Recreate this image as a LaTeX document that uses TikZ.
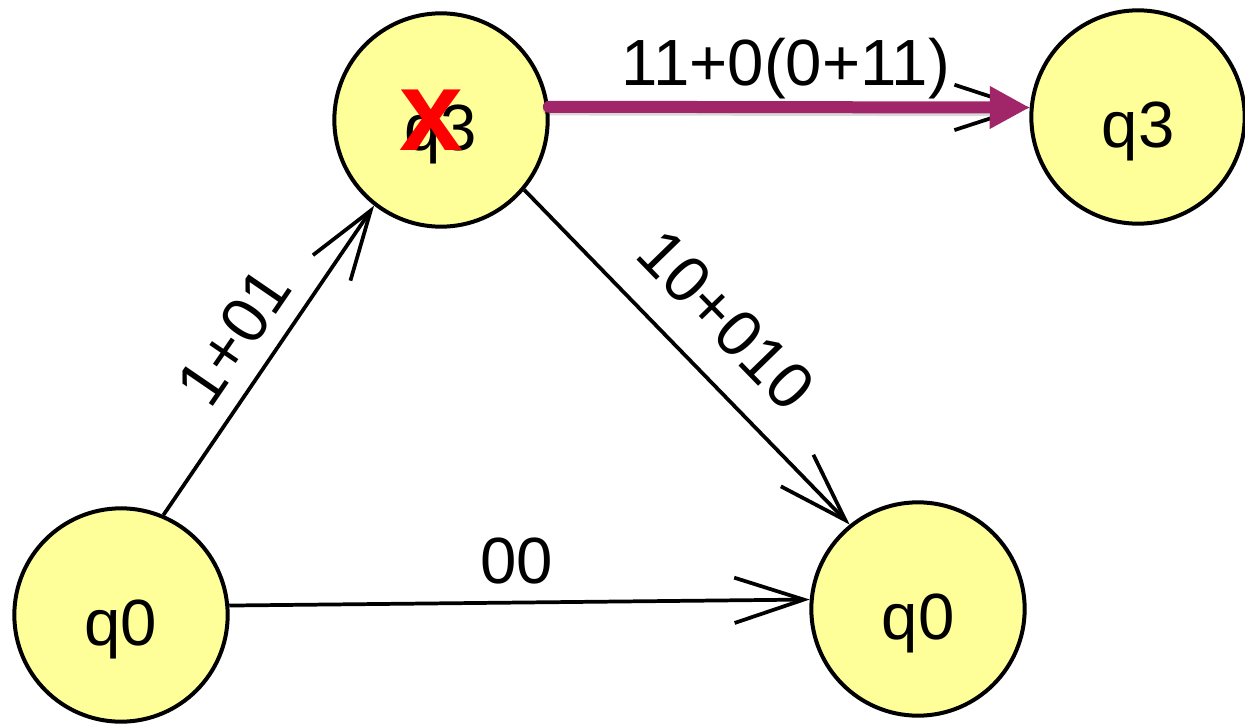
\documentclass[tikz,border=0pt]{standalone}
\usepackage{fontspec}
\setmainfont{Liberation Sans}
\usetikzlibrary{arrows.meta}
\definecolor{stateyellow}{RGB}{255,255,153}
\definecolor{hlpurple}{RGB}{160,38,105}
\begin{document}
\begin{tikzpicture}[x=0.75pt,y=-0.75pt,
  state/.style={circle,draw=black,line width=3pt,fill=stateyellow,minimum size=160pt,inner sep=0pt,
    font=\fontsize{49}{58}\selectfont},
  trans/.style={line width=2.8pt,-{Straight Barb[length=52pt,width=34pt,line width=2.8pt]}},
  elabel/.style={font=\fontsize{49}{58}\selectfont,inner sep=0pt},
  hl/.style={line width=9pt,color=hlpurple,line cap=round,-{Triangle[length=30pt,width=30pt]}}]
\useasboundingbox (0,0) rectangle (1245,725);
\node[state] (A) at (121,615) {\makebox[0pt]{\raisebox{-23pt}[0pt][0pt]{q0}}};
\node[state] (B) at (441,120) {\makebox[0pt]{\raisebox{-23pt}[0pt][0pt]{q3}}};
\node[state] (C) at (1138,117) {\makebox[0pt]{\raisebox{-23pt}[0pt][0pt]{q3}}};
\node[state] (D) at (918,609) {\makebox[0pt]{\raisebox{-23pt}[0pt][0pt]{q0}}};
\draw[trans] (A.67) -- (B.232);
\draw[trans] (B.-40) -- (D.129);
\draw[trans] (A.5) -- (D.175);
\draw[trans] (B.7) -- (C.175);
\draw[line width=9pt,color=black,opacity=0.15,line cap=round] ([yshift=-2pt]B.7) -- ([xshift=-30pt,yshift=-2pt]C.175);
\draw[hl] (B.7) -- (C.175);
\node[elabel,rotate=55.6] (l1) at (234,337) {1+01};
\node[elabel,rotate=-45.8] (l2) at (726,320) {10+010};
\node[elabel] (l3) at (517,561) {00};
\node[elabel] (l4) at (786,69) {11+0(0+11)};
\node[inner sep=0pt,text=red,font=\fontsize{86}{96}\selectfont\bfseries] (X) at (431,120) {x};
\end{tikzpicture}
\end{document}
